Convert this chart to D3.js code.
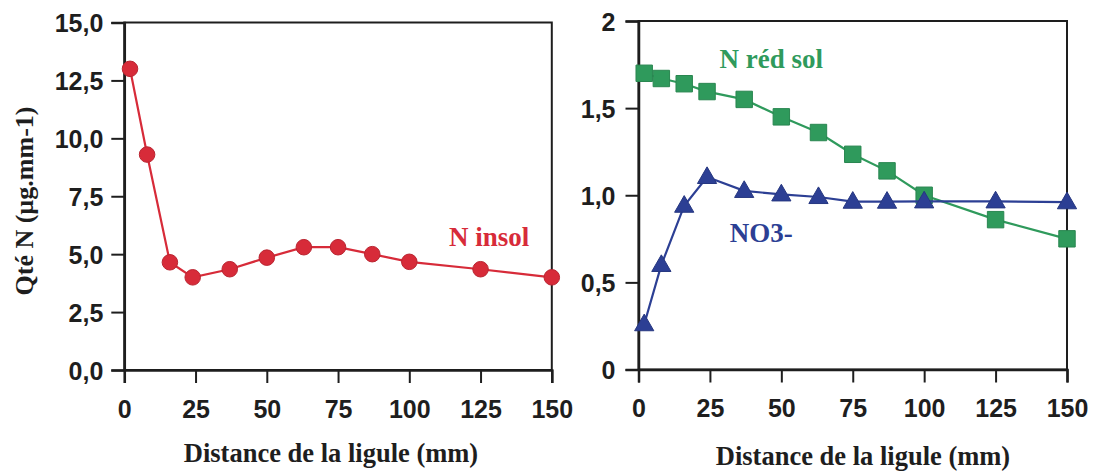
<!DOCTYPE html>
<html><head><meta charset="utf-8">
<script src="https://cdn.jsdelivr.net/npm/d3@7"></script>
<style>body{margin:0;background:#fff}svg{display:block}</style>
</head><body>
<svg id="c" width="1095" height="472"></svg>
<script>
const distances = [2, 8, 16, 24, 37, 50, 63, 75, 87, 100, 125, 150];
const nInsol = [13.0, 9.3, 4.65, 4.0, 4.35, 4.85, 5.3, 5.3, 5.0, 4.67, 4.35, 4.0];
const nRedSol = [1.70, 1.67, 1.64, 1.595, 1.55, 1.45, 1.36, 1.235, 1.14, 1.0, 0.86, 0.75];
const no3 = [0.26, 0.60, 0.94, 1.105, 1.025, 1.005, 0.99, 0.963, 0.963, 0.965, 0.965, 0.96];
const xTicks = [0, 25, 50, 75, 100, 125, 150];
const yTicksLeft = [0, 2.5, 5, 7.5, 10, 12.5, 15];
const yTickLabelsLeft = ["0,0", "2,5", "5,0", "7,5", "10,0", "12,5", "15,0"];
const yTicksRight = [0, 0.5, 1, 1.5, 2];
const yTickLabelsRight = ["0", "0,5", "1,0", "1,5", "2"];
const xTitle = "Distance de la ligule (mm)";
const yTitle = "Qté N (µg.mm-1)";

const svg = d3.select("#c");
const RED = "#d72b39", GREEN = "#2f9a5c", BLUE = "#2c3f94", INK = "#1e1e1e";
const sans = "'Liberation Sans', Arial, sans-serif";
const serif = "'Liberation Serif', 'Times New Roman', serif";

function panel(opts) {
  const x = d3.scaleLinear().domain([0, 150]).range(opts.xr);
  const y = d3.scaleLinear().domain(opts.yd).range(opts.yr);
  const g = svg.append("g");
  g.append("rect").attr("x", x(0)).attr("y", y(opts.yd[1]))
    .attr("width", x(150) - x(0)).attr("height", y(opts.yd[0]) - y(opts.yd[1]))
    .attr("fill", "none").attr("stroke", INK).attr("stroke-width", 2);
  const xa = g.append("g").attr("transform", `translate(0,${y(opts.yd[0])})`)
    .call(d3.axisBottom(x).tickValues(xTicks).tickSize(13).tickPadding(17).tickFormat(d3.format("d")));
  const ya = g.append("g").attr("transform", `translate(${x(0)},0)`)
    .call(d3.axisLeft(y).tickValues(opts.yt).tickSize(13).tickPadding(opts.pad)
      .tickFormat((d, i) => opts.yl[i]));
  [xa, ya].forEach(a => {
    a.select(".domain").attr("stroke", INK).attr("stroke-width", 2.5);
    a.selectAll(".tick line").attr("stroke", INK).attr("stroke-width", 2);
    a.selectAll("text").attr("fill", INK).style("font-family", sans)
      .style("font-size", "25px").style("font-weight", "bold");
  });
  ya.selectAll("text").attr("dy", "0.36em");
  g.append("text").attr("x", opts.titleX).attr("y", opts.titleY)
    .attr("text-anchor", "middle").style("font-family", serif).style("font-weight", "bold")
    .style("font-size", "26.5px").attr("fill", INK).text(xTitle);
  return {g, x, y};
}

const L = panel({xr: [124.3, 551.8], yd: [0, 15], yr: [370, 22.5], yt: yTicksLeft, yl: yTickLabelsLeft, pad: 8, titleX: 331, titleY: 462});
const R = panel({xr: [638.5, 1067], yd: [0, 2], yr: [369.5, 21], yt: yTicksRight, yl: yTickLabelsRight, pad: 10, titleX: 863, titleY: 465});

svg.append("text").attr("transform", "translate(33,201) rotate(-90)")
  .attr("text-anchor", "middle").style("font-family", serif).style("font-weight", "bold")
  .style("font-size", "26px").attr("fill", INK).text(yTitle);

function series(P, vals, color, shape) {
  const line = d3.line().x((d, i) => P.x(distances[i])).y(d => P.y(d));
  P.g.append("path").datum(vals).attr("d", line).attr("fill", "none")
    .attr("stroke", color).attr("stroke-width", 2.2);
  const sym = d3.symbol().type(shape.type).size(shape.size);
  P.g.selectAll(null).data(vals).enter().append("path")
    .attr("d", sym)
    .attr("transform", (d, i) => `translate(${P.x(distances[i])},${P.y(d) + (shape.dy || 0)})`)
    .attr("fill", color).attr("stroke", d3.color(color).darker(0.4)).attr("stroke-width", 1);
}
series(L, nInsol, RED, {type: d3.symbolCircle, size: 190});
series(R, nRedSol, GREEN, {type: d3.symbolSquare, size: 270});
series(R, no3, BLUE, {type: d3.symbolTriangle, size: 160, dy: 1});

function label(P, xv, yv, txt, color) {
  P.g.append("text").attr("x", P.x(xv)).attr("y", P.y(yv)).attr("text-anchor", "middle")
    .style("font-family", serif).style("font-weight", "bold").style("font-size", "27px")
    .attr("fill", color).text(txt);
}
label(L, 128, 5.35, "N insol", RED);
label(R, 46.5, 1.73, "N réd sol", GREEN);
label(R, 43, 0.73, "NO3-", BLUE);
</script>
</body></html>
